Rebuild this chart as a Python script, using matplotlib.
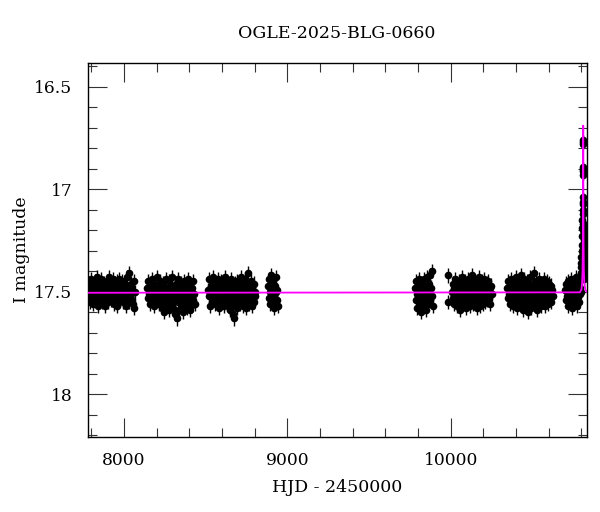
import matplotlib
matplotlib.use("Agg")
import matplotlib.pyplot as plt
from matplotlib.ticker import MultipleLocator, FuncFormatter

plt.rcParams['font.family'] = ['DejaVu Serif']

title = "OGLE-2025-BLG-0660"
xlabel = "HJD - 2450000"
ylabel = "I magnitude"

season1 = [(7781,17.50),(7784,17.46),(7788,17.53),(7791,17.48),(7795,17.55),(7799,17.44),(7802,17.51),(7806,17.49),(7810,17.56),(7813,17.47),
(7817,17.52),(7821,17.45),(7824,17.50),(7828,17.54),(7832,17.48),(7835,17.43),(7839,17.51),(7843,17.57),(7846,17.49),(7850,17.46),
(7854,17.53),(7857,17.50),(7861,17.44),(7865,17.55),(7868,17.48),(7872,17.52),(7876,17.46),(7879,17.50),(7883,17.57),(7887,17.47),
(7890,17.53),(7894,17.45),(7898,17.51),(7901,17.49),(7905,17.55),(7909,17.43),(7912,17.50),(7916,17.52),(7920,17.47),(7923,17.54),
(7927,17.48),(7931,17.44),(7934,17.51),(7938,17.56),(7942,17.49),(7945,17.46),(7949,17.53),(7953,17.50),(7956,17.45),(7960,17.57),
(7964,17.48),(7967,17.52),(7971,17.44),(7975,17.50),(7978,17.54),(7982,17.47),(7986,17.51),(7989,17.45),(7993,17.55),(7997,17.49),
(8000,17.53),(8004,17.46),(8008,17.50),(8011,17.57),(8015,17.48),(8019,17.43),(8022,17.52),(8026,17.49),(8030,17.41),(8033,17.55),
(8037,17.47),(8041,17.51),(8044,17.46),(8048,17.54),(8052,17.49),(8055,17.56),(8059,17.45),(8063,17.58),(8066,17.50)]

season2 = [(8142,17.48),(8146,17.53),(8149,17.45),(8153,17.51),(8157,17.56),(8160,17.47),(8164,17.50),(8168,17.54),(8171,17.44),(8175,17.52),
(8179,17.49),(8182,17.57),(8186,17.46),(8190,17.51),(8193,17.48),(8197,17.55),(8201,17.43),(8204,17.50),(8208,17.53),(8212,17.47),
(8215,17.56),(8219,17.49),(8223,17.45),(8226,17.52),(8230,17.58),(8234,17.48),(8237,17.51),(8241,17.46),(8245,17.55),(8248,17.60),
(8252,17.50),(8256,17.44),(8259,17.53),(8263,17.57),(8267,17.48),(8270,17.52),(8274,17.45),(8278,17.59),(8281,17.50),(8285,17.54),
(8289,17.47),(8292,17.56),(8296,17.43),(8300,17.51),(8303,17.58),(8307,17.49),(8311,17.61),(8314,17.53),(8318,17.46),(8322,17.63),
(8325,17.50),(8329,17.55),(8333,17.44),(8336,17.52),(8340,17.59),(8344,17.48),(8347,17.54),(8351,17.46),(8355,17.57),(8358,17.50),
(8362,17.60),(8366,17.45),(8369,17.53),(8373,17.49),(8377,17.56),(8380,17.47),(8384,17.58),(8388,17.51),(8391,17.44),(8395,17.55),
(8399,17.49),(8402,17.59),(8406,17.46),(8410,17.52),(8413,17.57),(8417,17.48),(8421,17.54),(8424,17.45),(8428,17.51),(8432,17.56)]

season3 = [(8515,17.49),(8519,17.44),(8522,17.52),(8526,17.57),(8530,17.47),(8533,17.51),(8537,17.45),(8541,17.55),(8544,17.50),(8548,17.43),
(8552,17.53),(8555,17.48),(8559,17.56),(8563,17.46),(8566,17.51),(8570,17.54),(8574,17.44),(8577,17.50),(8581,17.58),(8585,17.47),
(8588,17.52),(8592,17.45),(8596,17.55),(8599,17.49),(8603,17.53),(8607,17.46),(8610,17.57),(8614,17.50),(8618,17.43),(8621,17.52),
(8625,17.48),(8629,17.56),(8632,17.45),(8636,17.51),(8640,17.54),(8643,17.47),(8647,17.59),(8651,17.50),(8654,17.44),(8658,17.53),
(8662,17.57),(8665,17.48),(8669,17.61),(8672,17.63),(8676,17.52),(8680,17.46),(8683,17.55),(8687,17.49),(8691,17.58),(8694,17.45),
(8698,17.51),(8702,17.54),(8705,17.47),(8709,17.56),(8713,17.50),(8716,17.43),(8720,17.53),(8724,17.48),(8727,17.57),(8731,17.46),
(8735,17.52),(8738,17.55),(8742,17.44),(8746,17.50),(8749,17.58),(8753,17.47),(8757,17.53),(8760,17.41),(8764,17.56),(8768,17.49),
(8771,17.54),(8775,17.45),(8779,17.51),(8782,17.57),(8786,17.48),(8790,17.53),(8793,17.46),(8797,17.55),(8801,17.50),(8805,17.52)]

season4 = [(8883,17.47),(8886,17.53),(8890,17.44),(8893,17.50),(8897,17.56),(8900,17.42),(8904,17.51),(8907,17.48),(8911,17.55),(8914,17.45),
(8918,17.52),(8921,17.58),(8925,17.47),(8928,17.50),(8932,17.43),(8935,17.54),(8939,17.49),(8942,17.57)]

season5 = [(9782,17.48),(9785,17.54),(9789,17.45),(9792,17.51),(9796,17.58),(9799,17.47),(9803,17.52),(9806,17.44),(9810,17.56),(9813,17.49),
(9817,17.60),(9820,17.46),(9824,17.53),(9827,17.50),(9831,17.57),(9834,17.44),(9838,17.51),(9841,17.55),(9845,17.47),(9848,17.59),
(9852,17.49),(9855,17.43),(9859,17.53),(9862,17.56),(9866,17.46),(9869,17.51),(9873,17.42),(9876,17.54),(9880,17.48),(9883,17.40),
(9887,17.52),(9890,17.57)]

isolated = [(9983,17.42),(9986,17.55)]

season6 = [(10008,17.50),(10011,17.46),(10015,17.53),(10019,17.48),(10022,17.56),(10026,17.44),(10030,17.51),(10033,17.49),(10037,17.57),(10041,17.46),
(10044,17.52),(10048,17.45),(10052,17.55),(10055,17.50),(10059,17.59),(10063,17.47),(10066,17.53),(10070,17.43),(10074,17.51),(10077,17.56),
(10081,17.48),(10085,17.54),(10088,17.45),(10092,17.50),(10096,17.58),(10099,17.47),(10103,17.52),(10107,17.44),(10110,17.55),(10114,17.49),
(10118,17.57),(10121,17.46),(10125,17.53),(10129,17.50),(10132,17.42),(10136,17.56),(10140,17.48),(10143,17.52),(10147,17.45),(10151,17.54),
(10154,17.49),(10158,17.58),(10162,17.46),(10165,17.51),(10169,17.55),(10173,17.43),(10176,17.50),(10180,17.57),(10184,17.47),(10187,17.53),
(10191,17.45),(10195,17.56),(10198,17.49),(10202,17.52),(10206,17.44),(10209,17.55),(10213,17.48),(10217,17.51),(10220,17.46),(10224,17.54),
(10228,17.50),(10231,17.45),(10235,17.53),(10239,17.48),(10242,17.56),(10246,17.47),(10250,17.51)]

season7 = [(10345,17.48),(10349,17.53),(10352,17.45),(10356,17.51),(10360,17.56),(10363,17.47),(10367,17.50),(10371,17.44),(10374,17.54),(10378,17.49),
(10382,17.57),(10385,17.46),(10389,17.52),(10393,17.48),(10396,17.55),(10400,17.43),(10404,17.51),(10407,17.58),(10411,17.47),(10415,17.53),
(10418,17.45),(10422,17.56),(10426,17.50),(10429,17.42),(10433,17.54),(10437,17.48),(10440,17.59),(10444,17.46),(10448,17.52),(10451,17.44),
(10455,17.57),(10459,17.49),(10462,17.53),(10466,17.45),(10470,17.60),(10473,17.50),(10477,17.47),(10481,17.55),(10484,17.43),(10488,17.52),
(10492,17.58),(10495,17.48),(10499,17.54),(10503,17.46),(10506,17.51),(10510,17.41),(10514,17.56),(10517,17.49),(10521,17.53),(10525,17.45),
(10528,17.59),(10532,17.47),(10536,17.52),(10539,17.44),(10543,17.55),(10547,17.50),(10550,17.57),(10554,17.46),(10558,17.53),(10561,17.48),
(10565,17.55),(10569,17.44),(10572,17.51),(10576,17.57),(10580,17.47),(10583,17.52),(10587,17.45),(10591,17.54),(10594,17.49),(10598,17.56),
(10602,17.46),(10605,17.51),(10609,17.53),(10613,17.47),(10616,17.55),(10620,17.49),(10624,17.52)]

season8 = [(10701,17.49),(10704,17.54),(10708,17.46),(10711,17.52),(10715,17.57),(10718,17.45),(10722,17.50),(10725,17.55),(10729,17.47),(10732,17.53),
(10736,17.44),(10739,17.51),(10743,17.58),(10746,17.48),(10750,17.52),(10753,17.46),(10757,17.56),(10760,17.49),(10764,17.43),(10767,17.53),
(10771,17.50),(10774,17.57),(10778,17.47),(10781,17.52),(10785,17.45),(10788,17.55),(10790,17.48),(10793,17.51),(10796,17.44),(10799,17.50)]

peak = [(10809,16.76),(10810,16.78),(10811,16.77),(10808,16.89),(10809,16.91),(10810,16.93),(10811,16.90),(10807,17.04),(10808,17.07),(10809,17.10),
(10810,17.12),(10811,17.06),(10806,17.15),(10812,17.17),(10805,17.19),(10813,17.21),(10804,17.23),(10815,17.25),(10803,17.27),(10818,17.28),
(10802,17.30),(10820,17.31),(10800,17.33),(10823,17.34),(10799,17.36),(10826,17.37),(10797,17.38),(10829,17.40),(10795,17.41),(10832,17.42),
(10810,17.20),(10811,17.29),(10808,17.35),(10812,17.40),(10814,17.32),(10816,17.44),(10830,17.26),(10827,17.22),(10825,17.18),(10833,17.35)]

baseline_err = 0.035
peak_err = 0.025

model_t = [7777, 10790, 10800, 10804, 10807, 10809, 10810, 10811, 10812, 10813, 10815, 10818, 10824, 10836]
model_mag = [17.505, 17.503, 17.49, 17.46, 17.40, 17.25, 17.05, 16.69, 17.05, 17.25, 17.40, 17.46, 17.49, 17.503]

fig = plt.figure(figsize=(6, 5.12), dpi=100)
ax = fig.add_axes([87.5/600, 1-436.7/512, (587.3-87.5)/600, (436.7-62.7)/512])

groups = [(season1, baseline_err), (season2, baseline_err), (season3, baseline_err),
          (season4, baseline_err), (season5, baseline_err), (isolated, baseline_err),
          (season6, baseline_err), (season7, baseline_err), (season8, baseline_err),
          (peak, peak_err)]
for data, err in groups:
    t = [p[0] for p in data]
    m = [p[1] for p in data]
    ax.errorbar(t, m, yerr=err, fmt='o', color='black', ms=5.5, mew=0,
                elinewidth=1.0, capsize=2.5, capthick=1.0, zorder=2)

ax.plot(model_t, model_mag, color='#ff00ff', lw=1.3, zorder=3)

ax.set_xlim(7777, 10836)
ax.set_ylim(18.207, 16.383)
ax.xaxis.set_major_locator(MultipleLocator(1000))
ax.xaxis.set_minor_locator(MultipleLocator(200))
ax.yaxis.set_major_locator(MultipleLocator(0.5))
ax.yaxis.set_minor_locator(MultipleLocator(0.1))
ax.yaxis.set_major_formatter(FuncFormatter(lambda v, p: f"{v:g}"))
ax.xaxis.set_major_formatter(FuncFormatter(lambda v, p: f"{v:g}"))
ax.tick_params(which='both', direction='in', top=True, right=True, width=0.8, color='#333333')
ax.tick_params(which='major', length=13.5, labelsize=12.3, pad=11)
ax.tick_params(which='minor', length=6.5)
for s in ax.spines.values():
    s.set_linewidth(1.0)

fig.text(337/600, 1-34/512, title, ha='center', va='center', fontsize=12.5)
fig.text(337.5/600, 1-487/512, xlabel, ha='center', va='center', fontsize=12.5)
fig.text(21/600, 1-250/512, ylabel, ha='center', va='center', rotation=90, fontsize=12.5)

fig.savefig("out.png", dpi=100)
